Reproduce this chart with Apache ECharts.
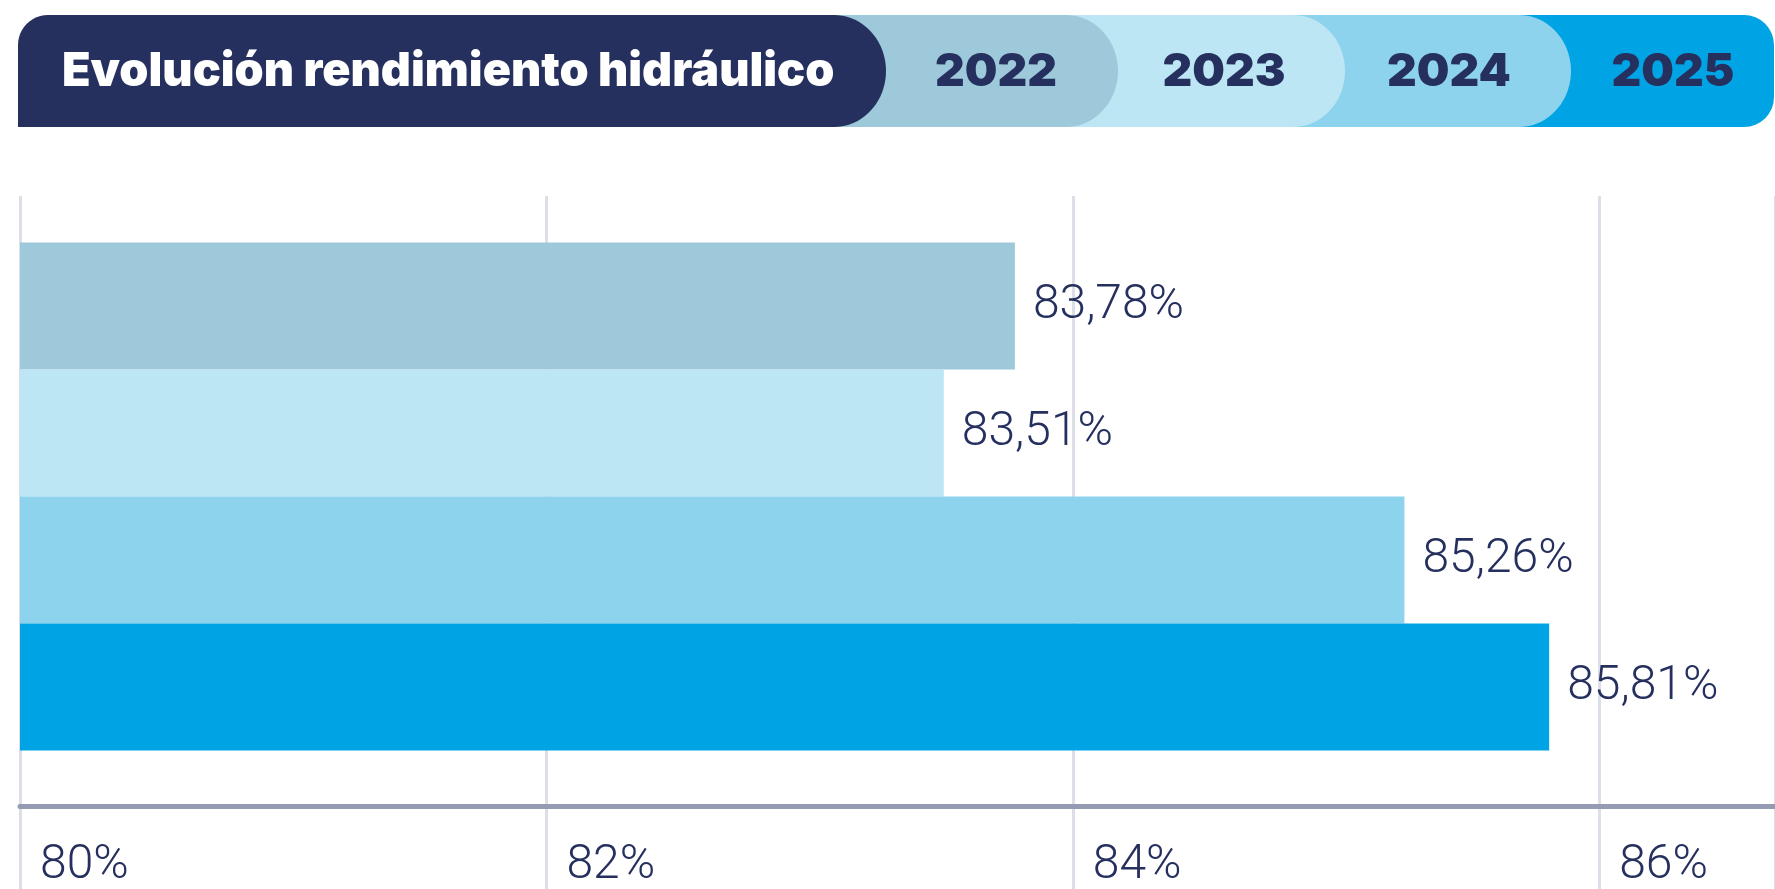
<!DOCTYPE html>
<html><head><meta charset="utf-8">
<script src="https://cdn.jsdelivr.net/npm/echarts@6/dist/echarts.min.js"></script>
<style>html,body{margin:0;padding:0;background:#fff}#c{width:1775px;height:889px}</style>
</head><body><div id="c"></div>
<script>
const title = 'Evolución rendimiento hidráulico';
const years = ['2022', '2023', '2024', '2025'];
const values = [83.78, 83.51, 85.26, 85.81];
const colors = ['#9dc9da', '#bde6f4', '#8dd3ed', '#00a3e4'];
const tickLabels = ['80%', '82%', '84%', '86%'];
const axisMin = 80, axisMax = 86.668, axisStep = 2;

const dark = '#26305e';
const y0 = 15, y1 = 127, ry = (y1 - y0) / 2, cy = (y0 + y1) / 2;
function capPoints(x0, x1, rx, tl) {
  const pts = [];
  if (tl) {
    for (let k = 0; k <= 12; k++) {
      const a = Math.PI + k / 12 * Math.PI / 2;
      pts.push([x0 + tl + tl * Math.cos(a), y0 + tl + tl * Math.sin(a)]);
    }
  } else pts.push([x0, y0]);
  for (let k = 0; k <= 40; k++) {
    const a = -Math.PI / 2 + k / 40 * Math.PI;
    pts.push([x1 - rx + rx * Math.cos(a), cy + ry * Math.sin(a)]);
  }
  pts.push([x0, y1]);
  return pts;
}
const segEnds = [1118, 1345, 1571];
const yearCenters = [996, 1224, 1449, 1673];
const graphics = [];
graphics.push({type: 'rect', shape: {x: 1300, y: y0, width: 1774 - 1300, height: y1 - y0, r: [0, 30, 30, 0]}, style: {fill: colors[3]}});
for (let i = 2; i >= 0; i--) {
  graphics.push({type: 'polygon', shape: {points: capPoints(segEnds[i] - 500, segEnds[i], 52)}, style: {fill: colors[i]}});
}
graphics.push({type: 'polygon', shape: {points: capPoints(18, 886, 52, 30)}, style: {fill: dark}});
graphics.push({type: 'text', x: 62, y: 72, style: {text: title, fill: '#fff', font: '900 46.7px Inter', textVerticalAlign: 'middle'}});
years.forEach((y, i) => graphics.push({type: 'text', x: yearCenters[i], y: 72, style: {text: y, fill: dark, font: '900 46px Inter', textAlign: 'center', textVerticalAlign: 'middle'}}));

const chart = echarts.init(document.getElementById('c'));
chart.setOption({
  animation: false,
  graphic: graphics,
  grid: [
    {left: 20, right: 0, top: 196, bottom: 0, outerBoundsMode: 'none'},
    {left: 20, right: 0, top: 187, bottom: 83, outerBoundsMode: 'none'}
  ],
  xAxis: [{
    gridIndex: 0, type: 'value', min: axisMin, max: axisMax, interval: axisStep,
    axisLine: {show: false}, axisTick: {show: false}, axisLabel: {show: false},
    splitLine: {show: true, lineStyle: {color: '#dcdfe8', width: 3}}
  }, {
    gridIndex: 1, type: 'value', min: axisMin, max: axisMax, interval: axisStep,
    axisLine: {show: true, onZero: false, lineStyle: {color: '#959bb3', width: 5}},
    axisTick: {show: false},
    splitLine: {show: false},
    axisLabel: {color: dark, fontFamily: 'Roboto', fontWeight: 300, fontSize: 48, align: 'left', margin: 36, padding: [0, 0, 0, 20],
      showMaxLabel: false,
      formatter: v => tickLabels[Math.round((v - axisMin) / axisStep)] || ''}
  }],
  yAxis: [
    {gridIndex: 0, type: 'category', data: ['rendimiento'], show: false},
    {gridIndex: 1, type: 'category', data: ['rendimiento'], show: false}
  ],
  series: years.map((y, i) => ({
    type: 'bar', name: y, xAxisIndex: 1, yAxisIndex: 1, data: [values[i]], barWidth: 127, barGap: '0%',
    itemStyle: {color: colors[i]},
    label: {show: true, position: 'right', distance: 18, color: dark, fontFamily: 'Roboto', fontWeight: 300, fontSize: 48,
      formatter: p => p.value.toFixed(2).replace('.', ',') + '%'}
  }))
});
</script></body></html>
